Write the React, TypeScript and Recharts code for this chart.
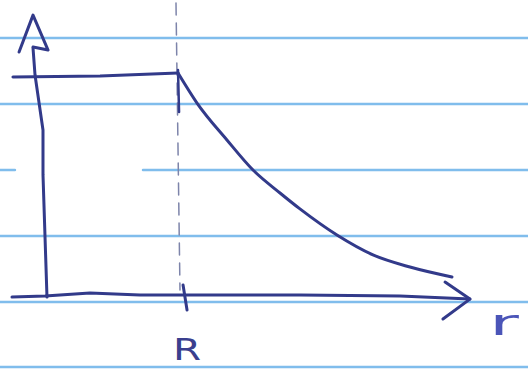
import React from 'react';
import { ComposedChart, Line, XAxis, YAxis, ReferenceDot } from 'recharts';

// r is measured in units of R, the profile in units of its inner (flat) value.
const R_DOMAIN: [number, number] = [-0.3383, 3.6316];
const V_DOMAIN: [number, number] = [-0.3484, 1.3394];

// Ruled notebook lines: [rStart, rEnd, height]
const ruleSegments: [number, number, number][] = [
  [-0.34, 3.64, 1.167],
  [-0.34, 3.64, 0.869],
  [-0.34, -0.226, 0.57],
  [0.737, 3.64, 0.57],
  [-0.34, 3.64, 0.271],
  [-0.34, 3.64, -0.027],
  [-0.34, 3.64, -0.321],
];

// Flat part for r < R
const plateauR = [-0.241, 0.414, 1.0];
const plateauV = [0.991, 0.995, 1.009];

// Decaying part for r > R
const decayR = [1.0, 1.143, 1.368, 1.564, 1.767, 1.917, 2.195, 2.466, 2.744, 3.06];
const decayV = [1.009, 0.873, 0.706, 0.57, 0.466, 0.394, 0.276, 0.186, 0.131, 0.086];

// Vertical axis (slightly leaning) and its arrowhead
const vAxisR = [0.015, -0.015, -0.015, -0.075, -0.09];
const vAxisV = [-0.005, 0.548, 0.751, 1.0, 1.122];
const vArrowR = [-0.195, -0.09, 0.023, -0.09];
const vArrowV = [1.104, 1.271, 1.113, 1.127];

// Horizontal (r) axis and its arrowhead
const hAxisR = [-0.248, 0, 0.338, 0.714, 1.053, 1.917, 2.669, 3.195];
const hAxisV = [-0.005, 0, 0.014, 0.005, 0.005, 0.005, 0, -0.014];
const hArrowR = [3.008, 3.195, 2.992];
const hArrowV = [0.063, -0.014, -0.104];

// Dashed guide at r = R, its inked part near the top, and the tick on the axis
const guideR = [0.985, 1.015];
const guideV = [1.326, 0.027];
const guideInkR = [1.0, 1.008];
const guideInkV = [1.023, 0.833];
const tickR = [1.038, 1.068];
const tickV = [0.05, -0.063];

const labelR = { r: 0.962, v: -0.29, text: 'R' };
const labelAxis = { r: 3.34, v: -0.176, text: 'r' };

const INK = '#323a8a';
const RULE = '#80bdec';

const pts = (rs: number[], vs: number[]) => rs.map((r, i) => ({ r, v: vs[i] }));

const series = (key: string, data: { r: number; v: number }[], stroke: string, width: number, extra: object = {}) => (
  <Line
    key={key}
    data={data}
    dataKey="v"
    type="linear"
    stroke={stroke}
    strokeWidth={width}
    strokeLinecap="round"
    strokeLinejoin="round"
    dot={false}
    activeDot={false}
    isAnimationActive={false}
    {...extra}
  />
);

const textLabel = (text: string, color: string, size: number, scaleX: number) => (props: any) => {
  const { viewBox } = props;
  const x = viewBox.x + (viewBox.width || 0) / 2;
  const y = viewBox.y + (viewBox.height || 0) / 2;
  return (
    <text
      x={0}
      y={0}
      transform={`translate(${x},${y}) scale(${scaleX},1)`}
      fill={color}
      fontFamily="DejaVu Sans"
      fontSize={size}
      textAnchor="start"
    >
      {text}
    </text>
  );
};

export default function App() {
  return (
    <div style={{ position: 'absolute', left: 0, top: 0, background: '#ffffff' }}>
      <ComposedChart width={528} height={373} margin={{ top: 0, right: 0, bottom: 0, left: 0 }}>
        <XAxis dataKey="r" type="number" domain={R_DOMAIN} allowDataOverflow hide />
        <YAxis type="number" domain={V_DOMAIN} allowDataOverflow hide />
        {ruleSegments.map(([a, b, h], i) =>
          series(`rule-${i}`, [{ r: a, v: h }, { r: b, v: h }], RULE, 2.5)
        )}
        {series('guide', pts(guideR, guideV), '#7d84aa', 1.5, { strokeDasharray: '12 8' })}
        {series('guide-ink', pts(guideInkR, guideInkV), INK, 2.5)}
        {series('v-axis', pts(vAxisR, vAxisV), INK, 3)}
        {series('v-arrow', pts(vArrowR, vArrowV), INK, 3)}
        {series('h-axis', pts(hAxisR, hAxisV), INK, 3)}
        {series('h-arrow', pts(hArrowR, hArrowV), INK, 3)}
        {series('tick', pts(tickR, tickV), INK, 3)}
        {series('plateau', pts(plateauR, plateauV), INK, 3)}
        {series('decay', pts(decayR, decayV), INK, 3, { type: 'monotone' })}
        <ReferenceDot
          x={labelR.r}
          y={labelR.v}
          r={0}
          fill="none"
          stroke="none"
          label={{ content: textLabel(labelR.text, '#3a3f8e', 30, 1.35), position: 'center' }}
        />
        <ReferenceDot
          x={labelAxis.r}
          y={labelAxis.v}
          r={0}
          fill="none"
          stroke="none"
          label={{ content: textLabel(labelAxis.text, '#4b55b8', 36, 2.0), position: 'center' }}
        />
      </ComposedChart>
    </div>
  );
}
